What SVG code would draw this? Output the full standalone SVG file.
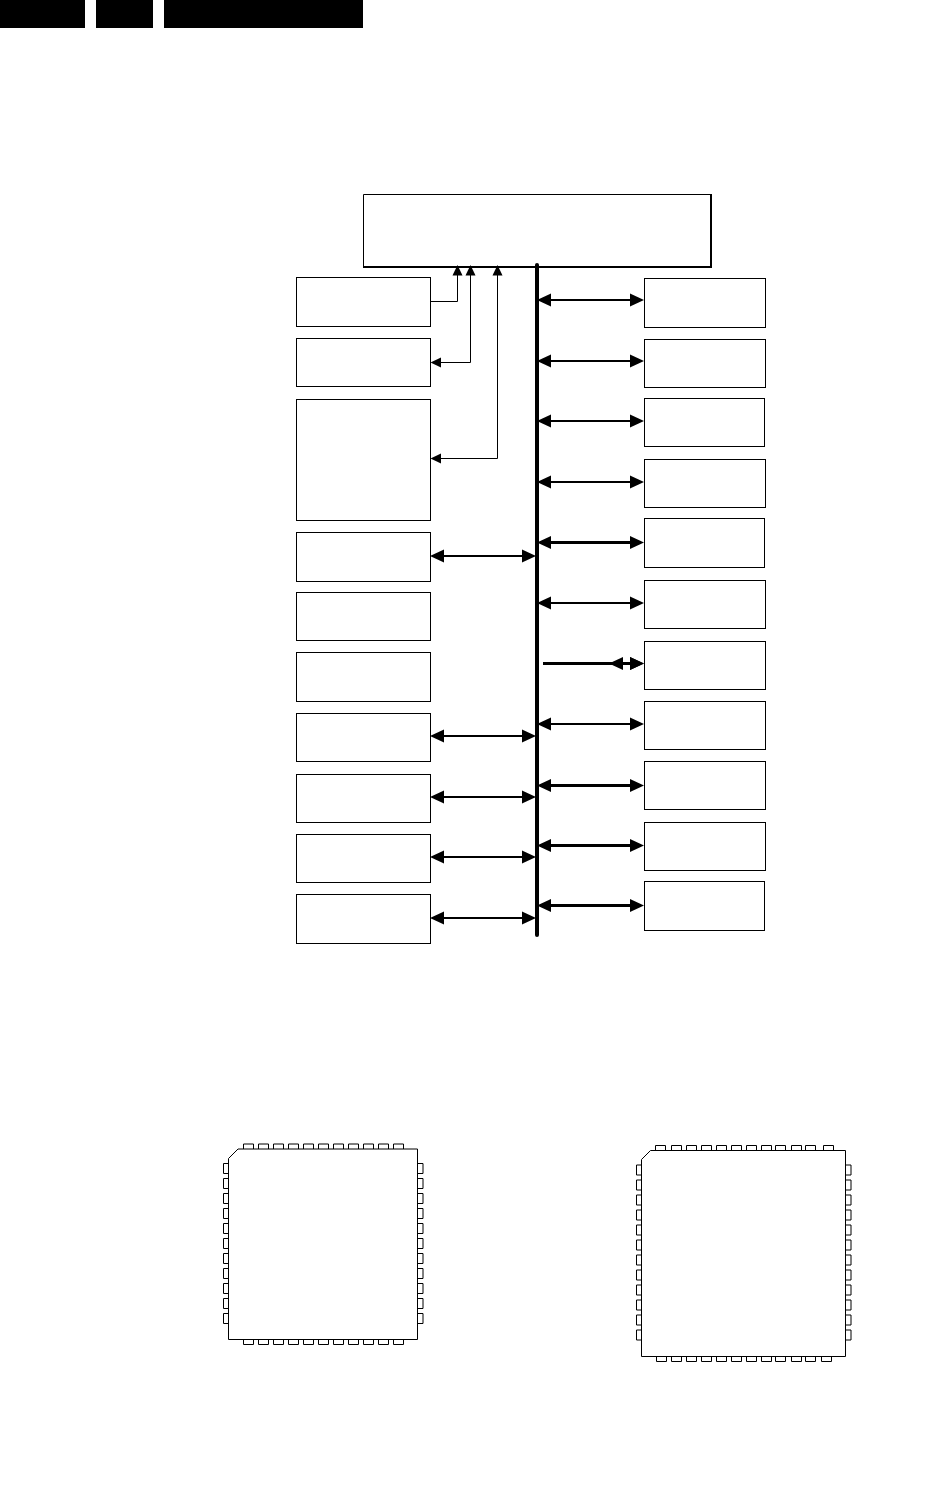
<svg xmlns="http://www.w3.org/2000/svg" width="942" height="1491" viewBox="0 0 942 1491">
<style>
.box{fill:#fff;stroke:#000;stroke-width:1}
.top{fill:none;stroke:#000;stroke-width:2}
.bar{fill:#000}
.bus{stroke:#000;stroke-width:4;stroke-linecap:round;fill:none}
.bi{stroke:#000;stroke-width:2;fill:none;marker-start:url(#big);marker-end:url(#big)}
.bi3{stroke:#000;stroke-width:3;fill:none;marker-start:url(#big);marker-end:url(#big)}
.thin{stroke:#000;stroke-width:1;fill:none}
.chip{fill:#fff;stroke:#000;stroke-width:1}
.pin{fill:none;stroke:#000;stroke-width:1}
</style>
<defs>
<marker id="big" markerUnits="userSpaceOnUse" markerWidth="15" markerHeight="14" refX="11" refY="7" orient="auto-start-reverse" overflow="visible"><path d="M0 0.5L14 7L0 13.5Z" fill="#000"/></marker>
<marker id="small" markerUnits="userSpaceOnUse" markerWidth="11" markerHeight="11" refX="8" refY="5" orient="auto-start-reverse" overflow="visible"><path d="M0 0L10.5 5L0 10Z" fill="#000"/></marker>
<path id="pt" d="M0 5V0H10V5"/>
<path id="pb" d="M0 0V5H10V0"/>
<path id="pl" d="M5 0H0V10H5"/>
<path id="pr" d="M0 0H5.5V10H0"/>
</defs>
<g id="header">
<rect class="bar" x="0" y="0" width="85" height="28"/>
<rect class="bar" x="96" y="0" width="57" height="28"/>
<rect class="bar" x="164" y="0" width="199" height="28"/>
</g>
<g id="main-box">
<path class="thin" d="M363.5 267V194.5H711"/>
<path class="top" d="M711 194V267H363"/>
</g>
<g id="left-boxes">
<rect id="l1" class="box" x="296.5" y="277.5" width="134" height="49"/>
<rect id="l2" class="box" x="296.5" y="338.5" width="134" height="48"/>
<rect id="l3" class="box" x="296.5" y="399.5" width="134" height="121"/>
<rect id="l4" class="box" x="296.5" y="532.5" width="134" height="49"/>
<rect id="l5" class="box" x="296.5" y="592.5" width="134" height="48"/>
<rect id="l6" class="box" x="296.5" y="652.5" width="134" height="49"/>
<rect id="l7" class="box" x="296.5" y="713.5" width="134" height="48"/>
<rect id="l8" class="box" x="296.5" y="774.5" width="134" height="48"/>
<rect id="l9" class="box" x="296.5" y="834.5" width="134" height="48"/>
<rect id="l10" class="box" x="296.5" y="894.5" width="134" height="49"/>
</g>
<g id="right-boxes">
<rect id="r1" class="box" x="644.5" y="278.5" width="121" height="49"/>
<rect id="r2" class="box" x="644.5" y="339.5" width="121" height="48"/>
<rect id="r3" class="box" x="644.5" y="398.5" width="120" height="48"/>
<rect id="r4" class="box" x="644.5" y="459.5" width="121" height="48"/>
<rect id="r5" class="box" x="644.5" y="518.5" width="120" height="49"/>
<rect id="r6" class="box" x="644.5" y="580.5" width="121" height="48"/>
<rect id="r7" class="box" x="644.5" y="641.5" width="121" height="48"/>
<rect id="r8" class="box" x="644.5" y="701.5" width="121" height="48"/>
<rect id="r9" class="box" x="644.5" y="761.5" width="121" height="48"/>
<rect id="r10" class="box" x="644.5" y="822.5" width="121" height="48"/>
<rect id="r11" class="box" x="644.5" y="881.5" width="120" height="49"/>
</g>
<g id="connectors">
<line class="bus" x1="537" y1="265" x2="537" y2="935"/>
<line class="bi" x1="540" y1="300" x2="641" y2="300"/>
<line class="bi" x1="540" y1="361" x2="641" y2="361"/>
<line class="bi" x1="540" y1="421" x2="641" y2="421"/>
<line class="bi" x1="540" y1="482" x2="641" y2="482"/>
<line class="bi3" x1="540" y1="542.5" x2="641" y2="542.5"/>
<line class="bi" x1="540" y1="603" x2="641" y2="603"/>
<line class="bi3" x1="543" y1="663.5" x2="641" y2="663.5" style="marker-start:none"/>
<line class="bi" x1="612" y1="663.5" x2="641" y2="663.5"/>
<line class="bi" x1="540" y1="724" x2="641" y2="724"/>
<line class="bi3" x1="540" y1="785.5" x2="641" y2="785.5"/>
<line class="bi3" x1="540" y1="845.5" x2="641" y2="845.5"/>
<line class="bi3" x1="540" y1="905.5" x2="641" y2="905.5"/>
<line class="bi" x1="433" y1="556" x2="533" y2="556"/>
<line class="bi" x1="433" y1="736" x2="533" y2="736"/>
<line class="bi" x1="433" y1="797" x2="533" y2="797"/>
<line class="bi" x1="433" y1="857" x2="533" y2="857"/>
<line class="bi" x1="433" y1="918" x2="533" y2="918"/>
<path class="thin" marker-end="url(#small)" d="M431 301.5H457.5V267.5"/>
<path class="thin" marker-start="url(#small)" marker-end="url(#small)" d="M433 362.5H470.5V267.5"/>
<path class="thin" marker-start="url(#small)" marker-end="url(#small)" d="M433 458.5H497.5V267.5"/>
</g>
<g id="chip-left">
<path class="chip" d="M238 1149H417.5V1339.5H228.5V1158.5Z"/>
<g class="pin">
<use href="#pt" x="243.5" y="1144"/><use href="#pt" x="258.5" y="1144"/><use href="#pt" x="273.5" y="1144"/><use href="#pt" x="288.5" y="1144"/><use href="#pt" x="303.5" y="1144"/><use href="#pt" x="318.5" y="1144"/><use href="#pt" x="333.5" y="1144"/><use href="#pt" x="348.5" y="1144"/><use href="#pt" x="363.5" y="1144"/><use href="#pt" x="378.5" y="1144"/><use href="#pt" x="393.5" y="1144"/>
<use href="#pb" x="243.5" y="1339.5"/><use href="#pb" x="258.5" y="1339.5"/><use href="#pb" x="273.5" y="1339.5"/><use href="#pb" x="288.5" y="1339.5"/><use href="#pb" x="303.5" y="1339.5"/><use href="#pb" x="318.5" y="1339.5"/><use href="#pb" x="333.5" y="1339.5"/><use href="#pb" x="348.5" y="1339.5"/><use href="#pb" x="363.5" y="1339.5"/><use href="#pb" x="378.5" y="1339.5"/><use href="#pb" x="393.5" y="1339.5"/>
<use href="#pl" x="223.5" y="1163.5"/><use href="#pl" x="223.5" y="1178.5"/><use href="#pl" x="223.5" y="1193.5"/><use href="#pl" x="223.5" y="1208.5"/><use href="#pl" x="223.5" y="1223.5"/><use href="#pl" x="223.5" y="1238.5"/><use href="#pl" x="223.5" y="1253.5"/><use href="#pl" x="223.5" y="1268.5"/><use href="#pl" x="223.5" y="1283.5"/><use href="#pl" x="223.5" y="1298.5"/><use href="#pl" x="223.5" y="1313.5"/>
<use href="#pr" x="417.5" y="1163.5"/><use href="#pr" x="417.5" y="1178.5"/><use href="#pr" x="417.5" y="1193.5"/><use href="#pr" x="417.5" y="1208.5"/><use href="#pr" x="417.5" y="1223.5"/><use href="#pr" x="417.5" y="1238.5"/><use href="#pr" x="417.5" y="1253.5"/><use href="#pr" x="417.5" y="1268.5"/><use href="#pr" x="417.5" y="1283.5"/><use href="#pr" x="417.5" y="1298.5"/><use href="#pr" x="417.5" y="1313.5"/>
</g>
</g>
<g id="chip-right">
<path class="chip" d="M650.5 1150.5H845.5V1356.5H641.5V1159.5Z"/>
<g class="pin">
<use href="#pt" x="655.5" y="1145.5"/><use href="#pt" x="671.5" y="1145.5"/><use href="#pt" x="686.5" y="1145.5"/><use href="#pt" x="701.5" y="1145.5"/><use href="#pt" x="716.5" y="1145.5"/><use href="#pt" x="731.5" y="1145.5"/><use href="#pt" x="746.5" y="1145.5"/><use href="#pt" x="761.5" y="1145.5"/><use href="#pt" x="775.5" y="1145.5"/><use href="#pt" x="791.5" y="1145.5"/><use href="#pt" x="805.5" y="1145.5"/><use href="#pt" x="823.5" y="1145.5"/>
<use href="#pb" x="656.5" y="1356.5"/><use href="#pb" x="671.5" y="1356.5"/><use href="#pb" x="686.5" y="1356.5"/><use href="#pb" x="701.5" y="1356.5"/><use href="#pb" x="716.5" y="1356.5"/><use href="#pb" x="731.5" y="1356.5"/><use href="#pb" x="746.5" y="1356.5"/><use href="#pb" x="761.5" y="1356.5"/><use href="#pb" x="775.5" y="1356.5"/><use href="#pb" x="791.5" y="1356.5"/><use href="#pb" x="805.5" y="1356.5"/><use href="#pb" x="821.5" y="1356.5"/>
<use href="#pl" x="636.5" y="1165"/><use href="#pl" x="636.5" y="1180"/><use href="#pl" x="636.5" y="1195"/><use href="#pl" x="636.5" y="1210"/><use href="#pl" x="636.5" y="1225"/><use href="#pl" x="636.5" y="1240"/><use href="#pl" x="636.5" y="1255"/><use href="#pl" x="636.5" y="1270"/><use href="#pl" x="636.5" y="1285"/><use href="#pl" x="636.5" y="1300"/><use href="#pl" x="636.5" y="1315"/><use href="#pl" x="636.5" y="1330"/>
<use href="#pr" x="845.5" y="1165"/><use href="#pr" x="845.5" y="1180"/><use href="#pr" x="845.5" y="1195"/><use href="#pr" x="845.5" y="1210"/><use href="#pr" x="845.5" y="1225"/><use href="#pr" x="845.5" y="1240"/><use href="#pr" x="845.5" y="1255"/><use href="#pr" x="845.5" y="1270"/><use href="#pr" x="845.5" y="1285"/><use href="#pr" x="845.5" y="1300"/><use href="#pr" x="845.5" y="1315"/><use href="#pr" x="845.5" y="1330"/>
</g>
</g>
</svg>
